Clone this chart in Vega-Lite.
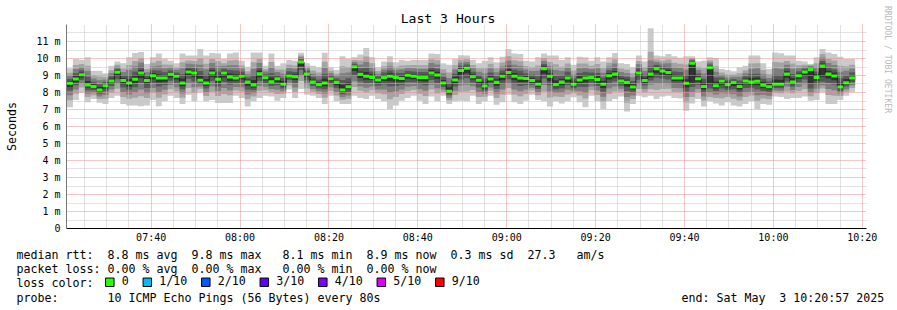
{
"$schema":"https://vega.github.io/schema/vega-lite/v6.json",
"width":800,"height":204,
"autosize":{"type":"none"},
"padding":{"left":66,"top":24,"right":31,"bottom":82},
"background":"#ffffff",
"config":{"view":{"stroke":null},"font":"DejaVu Sans Mono"},
"title":{"text":"Last 3 Hours","font":"DejaVu Sans Mono","fontSize":13.1,"fontWeight":"normal","color":"#000000","anchor":"middle","frame":"group","dx":-18,"offset":-31,"baseline":"alphabetic"},
"data":{"format":{"parse":{"t":"utc:'%H:%M:%S'"}},"values":[
{"t":"07:21:10","m":8.51,"p1":7.10,"p2":7.52,"p3":7.81,"p4":8.09,"p5":8.30,"p6":8.64,"p7":8.78,"p8":8.96,"p9":9.13,"p10":9.40},
{"t":"07:22:30","m":8.76,"p1":7.53,"p2":7.90,"p3":8.14,"p4":8.39,"p5":8.58,"p6":8.94,"p7":9.11,"p8":9.35,"p9":9.59,"p10":9.94},
{"t":"07:23:50","m":9.02,"p1":7.95,"p2":8.27,"p3":8.48,"p4":8.70,"p5":8.86,"p6":9.15,"p7":9.28,"p8":9.46,"p9":9.64,"p10":9.90},
{"t":"07:25:10","m":8.41,"p1":7.39,"p2":7.70,"p3":7.90,"p4":8.10,"p5":8.26,"p6":8.65,"p7":8.90,"p8":9.23,"p9":9.55,"p10":10.04},
{"t":"07:26:30","m":8.33,"p1":7.59,"p2":7.81,"p3":7.96,"p4":8.11,"p5":8.22,"p6":8.47,"p7":8.61,"p8":8.79,"p9":8.97,"p10":9.25},
{"t":"07:27:50","m":8.12,"p1":7.37,"p2":7.59,"p3":7.74,"p4":7.89,"p5":8.01,"p6":8.29,"p7":8.46,"p8":8.69,"p9":8.91,"p10":9.25},
{"t":"07:29:10","m":8.37,"p1":7.29,"p2":7.61,"p3":7.83,"p4":8.05,"p5":8.21,"p6":8.48,"p7":8.59,"p8":8.74,"p9":8.88,"p10":9.10},
{"t":"07:30:30","m":8.65,"p1":7.65,"p2":7.95,"p3":8.15,"p4":8.35,"p5":8.50,"p6":8.79,"p7":8.92,"p8":9.10,"p9":9.28,"p10":9.55},
{"t":"07:31:50","m":9.16,"p1":7.78,"p2":8.19,"p3":8.47,"p4":8.75,"p5":8.95,"p6":9.26,"p7":9.35,"p8":9.48,"p9":9.61,"p10":9.80},
{"t":"07:33:10","m":8.67,"p1":7.29,"p2":7.70,"p3":7.98,"p4":8.26,"p5":8.46,"p6":8.82,"p7":8.98,"p8":9.18,"p9":9.38,"p10":9.69},
{"t":"07:34:30","m":8.53,"p1":7.20,"p2":7.60,"p3":7.86,"p4":8.13,"p5":8.33,"p6":8.76,"p7":8.98,"p8":9.29,"p9":9.59,"p10":10.04},
{"t":"07:35:50","m":8.75,"p1":7.20,"p2":7.66,"p3":7.97,"p4":8.28,"p5":8.52,"p6":8.98,"p7":9.21,"p8":9.52,"p9":9.83,"p10":10.29},
{"t":"07:37:10","m":9.12,"p1":7.16,"p2":7.75,"p3":8.14,"p4":8.53,"p5":8.83,"p6":9.30,"p7":9.49,"p8":9.74,"p9":9.98,"p10":10.35},
{"t":"07:38:30","m":8.67,"p1":7.20,"p2":7.64,"p3":7.93,"p4":8.23,"p5":8.45,"p6":8.82,"p7":8.96,"p8":9.16,"p9":9.36,"p10":9.65},
{"t":"07:39:50","m":8.96,"p1":7.53,"p2":7.96,"p3":8.24,"p4":8.53,"p5":8.75,"p6":9.12,"p7":9.28,"p8":9.50,"p9":9.72,"p10":10.04},
{"t":"07:41:10","m":8.82,"p1":7.16,"p2":7.66,"p3":7.99,"p4":8.32,"p5":8.57,"p6":9.04,"p7":9.26,"p8":9.55,"p9":9.84,"p10":10.27},
{"t":"07:42:30","m":8.82,"p1":7.45,"p2":7.86,"p3":8.13,"p4":8.41,"p5":8.61,"p6":8.99,"p7":9.16,"p8":9.39,"p9":9.62,"p10":9.96},
{"t":"07:43:50","m":9.04,"p1":7.78,"p2":8.16,"p3":8.41,"p4":8.66,"p5":8.85,"p6":9.16,"p7":9.28,"p8":9.44,"p9":9.60,"p10":9.84},
{"t":"07:45:10","m":8.92,"p1":7.65,"p2":8.03,"p3":8.28,"p4":8.54,"p5":8.73,"p6":9.04,"p7":9.15,"p8":9.31,"p9":9.46,"p10":9.69},
{"t":"07:46:30","m":8.53,"p1":7.29,"p2":7.66,"p3":7.91,"p4":8.16,"p5":8.34,"p6":8.79,"p7":9.05,"p8":9.40,"p9":9.75,"p10":10.27},
{"t":"07:47:50","m":9.18,"p1":7.84,"p2":8.24,"p3":8.51,"p4":8.78,"p5":8.98,"p6":9.32,"p7":9.47,"p8":9.66,"p9":9.85,"p10":10.14},
{"t":"07:49:10","m":9.12,"p1":7.45,"p2":7.95,"p3":8.28,"p4":8.62,"p5":8.87,"p6":9.27,"p7":9.43,"p8":9.63,"p9":9.83,"p10":10.14},
{"t":"07:50:30","m":8.69,"p1":7.98,"p2":8.19,"p3":8.33,"p4":8.48,"p5":8.58,"p6":8.97,"p7":9.24,"p8":9.61,"p9":9.98,"p10":10.53},
{"t":"07:51:50","m":8.53,"p1":7.45,"p2":7.77,"p3":7.99,"p4":8.21,"p5":8.37,"p6":8.77,"p7":9.01,"p8":9.34,"p9":9.66,"p10":10.14},
{"t":"07:53:10","m":9.12,"p1":7.53,"p2":8.01,"p3":8.32,"p4":8.64,"p5":8.88,"p6":9.30,"p7":9.47,"p8":9.71,"p9":9.94,"p10":10.29},
{"t":"07:54:30","m":8.75,"p1":7.35,"p2":7.77,"p3":8.05,"p4":8.33,"p5":8.54,"p6":8.98,"p7":9.21,"p8":9.51,"p9":9.81,"p10":10.27},
{"t":"07:55:50","m":9.12,"p1":7.35,"p2":7.88,"p3":8.23,"p4":8.59,"p5":8.85,"p6":9.24,"p7":9.37,"p8":9.53,"p9":9.69,"p10":9.94},
{"t":"07:57:10","m":8.88,"p1":7.35,"p2":7.81,"p3":8.11,"p4":8.42,"p5":8.65,"p6":9.09,"p7":9.30,"p8":9.58,"p9":9.85,"p10":10.27},
{"t":"07:58:30","m":8.82,"p1":7.78,"p2":8.09,"p3":8.30,"p4":8.51,"p5":8.66,"p6":9.05,"p7":9.27,"p8":9.58,"p9":9.88,"p10":10.33},
{"t":"07:59:50","m":8.92,"p1":7.65,"p2":8.03,"p3":8.28,"p4":8.54,"p5":8.73,"p6":9.06,"p7":9.20,"p8":9.38,"p9":9.56,"p10":9.84},
{"t":"08:01:10","m":8.59,"p1":7.14,"p2":7.57,"p3":7.86,"p4":8.15,"p5":8.37,"p6":8.73,"p7":8.86,"p8":9.04,"p9":9.22,"p10":9.49},
{"t":"08:02:30","m":8.41,"p1":7.45,"p2":7.74,"p3":7.93,"p4":8.12,"p5":8.27,"p6":8.70,"p7":8.99,"p8":9.37,"p9":9.75,"p10":10.33},
{"t":"08:03:50","m":9.08,"p1":7.65,"p2":8.08,"p3":8.36,"p4":8.65,"p5":8.87,"p6":9.27,"p7":9.46,"p8":9.71,"p9":9.96,"p10":10.33},
{"t":"08:05:10","m":8.84,"p1":7.78,"p2":8.10,"p3":8.31,"p4":8.52,"p5":8.68,"p6":8.95,"p7":9.05,"p8":9.20,"p9":9.34,"p10":9.55},
{"t":"08:06:30","m":8.61,"p1":7.73,"p2":7.99,"p3":8.17,"p4":8.35,"p5":8.48,"p6":8.86,"p7":9.11,"p8":9.44,"p9":9.77,"p10":10.27},
{"t":"08:07:50","m":8.78,"p1":7.49,"p2":7.88,"p3":8.13,"p4":8.39,"p5":8.59,"p6":8.90,"p7":9.01,"p8":9.17,"p9":9.32,"p10":9.55},
{"t":"08:09:10","m":8.45,"p1":7.65,"p2":7.89,"p3":8.05,"p4":8.21,"p5":8.33,"p6":8.64,"p7":8.82,"p8":9.07,"p9":9.32,"p10":9.69},
{"t":"08:10:30","m":8.94,"p1":8.14,"p2":8.38,"p3":8.54,"p4":8.70,"p5":8.82,"p6":9.08,"p7":9.22,"p8":9.41,"p9":9.60,"p10":9.88},
{"t":"08:11:50","m":8.90,"p1":7.65,"p2":8.02,"p3":8.27,"p4":8.52,"p5":8.71,"p6":9.04,"p7":9.18,"p8":9.37,"p9":9.56,"p10":9.84},
{"t":"08:13:10","m":9.76,"p1":8.18,"p2":8.65,"p3":8.97,"p4":9.29,"p5":9.52,"p6":9.84,"p7":9.93,"p8":10.04,"p9":10.15,"p10":10.31},
{"t":"08:14:30","m":9.06,"p1":7.84,"p2":8.21,"p3":8.45,"p4":8.69,"p5":8.88,"p6":9.15,"p7":9.25,"p8":9.38,"p9":9.50,"p10":9.69},
{"t":"08:15:50","m":8.59,"p1":7.78,"p2":8.02,"p3":8.18,"p4":8.35,"p5":8.47,"p6":8.73,"p7":8.88,"p8":9.07,"p9":9.26,"p10":9.55},
{"t":"08:17:10","m":8.43,"p1":7.65,"p2":7.88,"p3":8.04,"p4":8.20,"p5":8.31,"p6":8.58,"p7":8.74,"p8":8.94,"p9":9.14,"p10":9.45},
{"t":"08:18:30","m":8.53,"p1":7.29,"p2":7.66,"p3":7.91,"p4":8.16,"p5":8.34,"p6":8.80,"p7":9.06,"p8":9.42,"p9":9.78,"p10":10.31},
{"t":"08:19:50","m":8.78,"p1":7.78,"p2":8.08,"p3":8.28,"p4":8.48,"p5":8.63,"p6":8.88,"p7":8.98,"p8":9.12,"p9":9.25,"p10":9.45},
{"t":"08:21:10","m":8.57,"p1":7.45,"p2":7.79,"p3":8.01,"p4":8.23,"p5":8.40,"p6":8.68,"p7":8.79,"p8":8.93,"p9":9.07,"p10":9.29},
{"t":"08:22:30","m":8.12,"p1":7.29,"p2":7.54,"p3":7.70,"p4":7.87,"p5":8.00,"p6":8.42,"p7":8.71,"p8":9.11,"p9":9.51,"p10":10.10},
{"t":"08:23:50","m":8.31,"p1":7.29,"p2":7.60,"p3":7.80,"p4":8.00,"p5":8.16,"p6":8.56,"p7":8.81,"p8":9.14,"p9":9.47,"p10":9.96},
{"t":"08:25:10","m":9.49,"p1":7.78,"p2":8.29,"p3":8.63,"p4":8.98,"p5":9.23,"p6":9.57,"p7":9.66,"p8":9.77,"p9":9.88,"p10":10.04},
{"t":"08:26:30","m":9.04,"p1":7.65,"p2":8.07,"p3":8.34,"p4":8.62,"p5":8.83,"p6":9.21,"p7":9.39,"p8":9.62,"p9":9.85,"p10":10.20},
{"t":"08:27:50","m":8.92,"p1":7.59,"p2":7.99,"p3":8.25,"p4":8.52,"p5":8.72,"p6":9.17,"p7":9.42,"p8":9.76,"p9":10.09,"p10":10.59},
{"t":"08:29:10","m":8.86,"p1":7.78,"p2":8.10,"p3":8.32,"p4":8.54,"p5":8.70,"p6":9.04,"p7":9.21,"p8":9.45,"p9":9.69,"p10":10.04},
{"t":"08:30:30","m":8.71,"p1":7.59,"p2":7.93,"p3":8.15,"p4":8.37,"p5":8.54,"p6":8.82,"p7":8.93,"p8":9.08,"p9":9.23,"p10":9.45},
{"t":"08:31:50","m":8.86,"p1":7.45,"p2":7.87,"p3":8.15,"p4":8.44,"p5":8.65,"p6":9.00,"p7":9.14,"p8":9.33,"p9":9.52,"p10":9.80},
{"t":"08:33:10","m":8.92,"p1":7.00,"p2":7.58,"p3":7.96,"p4":8.34,"p5":8.63,"p6":9.10,"p7":9.27,"p8":9.51,"p9":9.75,"p10":10.10},
{"t":"08:34:30","m":8.86,"p1":7.20,"p2":7.70,"p3":8.03,"p4":8.36,"p5":8.61,"p6":8.99,"p7":9.13,"p8":9.31,"p9":9.48,"p10":9.75},
{"t":"08:35:50","m":8.80,"p1":7.49,"p2":7.88,"p3":8.14,"p4":8.41,"p5":8.60,"p6":8.96,"p7":9.12,"p8":9.34,"p9":9.56,"p10":9.88},
{"t":"08:37:10","m":8.98,"p1":7.65,"p2":8.05,"p3":8.31,"p4":8.58,"p5":8.78,"p6":9.11,"p7":9.24,"p8":9.41,"p9":9.58,"p10":9.84},
{"t":"08:38:30","m":8.92,"p1":7.78,"p2":8.12,"p3":8.35,"p4":8.58,"p5":8.75,"p6":9.06,"p7":9.21,"p8":9.40,"p9":9.59,"p10":9.88},
{"t":"08:39:50","m":8.86,"p1":7.49,"p2":7.90,"p3":8.17,"p4":8.45,"p5":8.65,"p6":9.01,"p7":9.17,"p8":9.37,"p9":9.57,"p10":9.88},
{"t":"08:41:10","m":8.86,"p1":7.29,"p2":7.76,"p3":8.07,"p4":8.39,"p5":8.62,"p6":9.01,"p7":9.17,"p8":9.37,"p9":9.57,"p10":9.88},
{"t":"08:42:30","m":9.12,"p1":7.73,"p2":8.15,"p3":8.42,"p4":8.70,"p5":8.91,"p6":9.29,"p7":9.47,"p8":9.70,"p9":9.93,"p10":10.27},
{"t":"08:43:50","m":9.00,"p1":7.45,"p2":7.91,"p3":8.22,"p4":8.53,"p5":8.77,"p6":9.19,"p7":9.37,"p8":9.62,"p9":9.87,"p10":10.24},
{"t":"08:45:10","m":8.53,"p1":7.78,"p2":8.00,"p3":8.15,"p4":8.30,"p5":8.42,"p6":8.70,"p7":8.88,"p8":9.11,"p9":9.34,"p10":9.69},
{"t":"08:46:30","m":8.04,"p1":7.29,"p2":7.51,"p3":7.66,"p4":7.81,"p5":7.93,"p6":8.28,"p7":8.51,"p8":8.83,"p9":9.14,"p10":9.61},
{"t":"08:47:50","m":8.71,"p1":7.45,"p2":7.83,"p3":8.08,"p4":8.33,"p5":8.52,"p6":8.89,"p7":9.08,"p8":9.33,"p9":9.57,"p10":9.94},
{"t":"08:49:10","m":9.27,"p1":7.49,"p2":8.02,"p3":8.38,"p4":8.74,"p5":9.00,"p6":9.40,"p7":9.54,"p8":9.72,"p9":9.89,"p10":10.16},
{"t":"08:50:30","m":9.39,"p1":7.45,"p2":8.03,"p3":8.42,"p4":8.81,"p5":9.10,"p6":9.50,"p7":9.62,"p8":9.77,"p9":9.92,"p10":10.14},
{"t":"08:51:50","m":8.90,"p1":7.78,"p2":8.12,"p3":8.34,"p4":8.56,"p5":8.73,"p6":9.05,"p7":9.19,"p8":9.39,"p9":9.59,"p10":9.88},
{"t":"08:53:10","m":8.69,"p1":7.29,"p2":7.71,"p3":7.99,"p4":8.27,"p5":8.48,"p6":8.84,"p7":8.99,"p8":9.19,"p9":9.39,"p10":9.69},
{"t":"08:54:30","m":8.35,"p1":7.45,"p2":7.72,"p3":7.90,"p4":8.08,"p5":8.21,"p6":8.57,"p7":8.80,"p8":9.10,"p9":9.39,"p10":9.84},
{"t":"08:55:50","m":8.76,"p1":7.78,"p2":8.07,"p3":8.27,"p4":8.47,"p5":8.61,"p6":8.95,"p7":9.14,"p8":9.40,"p9":9.66,"p10":10.04},
{"t":"08:57:10","m":8.57,"p1":7.25,"p2":7.65,"p3":7.91,"p4":8.17,"p5":8.37,"p6":8.75,"p7":8.92,"p8":9.16,"p9":9.40,"p10":9.75},
{"t":"08:58:30","m":8.92,"p1":7.39,"p2":7.85,"p3":8.15,"p4":8.46,"p5":8.69,"p6":9.09,"p7":9.27,"p8":9.50,"p9":9.73,"p10":10.08},
{"t":"08:59:50","m":9.14,"p1":7.84,"p2":8.23,"p3":8.49,"p4":8.75,"p5":8.94,"p6":9.35,"p7":9.56,"p8":9.84,"p9":10.11,"p10":10.53},
{"t":"09:01:10","m":8.92,"p1":7.39,"p2":7.85,"p3":8.15,"p4":8.46,"p5":8.69,"p6":9.12,"p7":9.33,"p8":9.60,"p9":9.87,"p10":10.27},
{"t":"09:02:30","m":8.82,"p1":7.29,"p2":7.75,"p3":8.05,"p4":8.36,"p5":8.59,"p6":9.03,"p7":9.25,"p8":9.53,"p9":9.81,"p10":10.24},
{"t":"09:03:50","m":8.80,"p1":7.49,"p2":7.88,"p3":8.14,"p4":8.41,"p5":8.60,"p6":8.96,"p7":9.11,"p8":9.32,"p9":9.53,"p10":9.84},
{"t":"09:05:10","m":8.67,"p1":7.84,"p2":8.09,"p3":8.25,"p4":8.42,"p5":8.55,"p6":8.84,"p7":9.01,"p8":9.24,"p9":9.46,"p10":9.80},
{"t":"09:06:30","m":8.45,"p1":7.53,"p2":7.81,"p3":7.99,"p4":8.17,"p5":8.31,"p6":8.69,"p7":8.93,"p8":9.25,"p9":9.56,"p10":10.04},
{"t":"09:07:50","m":9.37,"p1":7.45,"p2":8.03,"p3":8.41,"p4":8.79,"p5":9.08,"p6":9.51,"p7":9.64,"p8":9.82,"p9":10.00,"p10":10.27},
{"t":"09:09:10","m":8.92,"p1":7.14,"p2":7.67,"p3":8.03,"p4":8.39,"p5":8.65,"p6":9.10,"p7":9.29,"p8":9.53,"p9":9.77,"p10":10.14},
{"t":"09:10:30","m":8.43,"p1":7.45,"p2":7.74,"p3":7.94,"p4":8.14,"p5":8.28,"p6":8.69,"p7":8.94,"p8":9.29,"p9":9.63,"p10":10.14},
{"t":"09:11:50","m":8.59,"p1":7.33,"p2":7.71,"p3":7.96,"p4":8.21,"p5":8.40,"p6":8.78,"p7":8.98,"p8":9.24,"p9":9.49,"p10":9.88},
{"t":"09:13:10","m":8.82,"p1":7.45,"p2":7.86,"p3":8.13,"p4":8.41,"p5":8.61,"p6":9.00,"p7":9.19,"p8":9.43,"p9":9.67,"p10":10.04},
{"t":"09:14:30","m":8.45,"p1":7.69,"p2":7.92,"p3":8.07,"p4":8.22,"p5":8.34,"p6":8.62,"p7":8.80,"p8":9.03,"p9":9.26,"p10":9.61},
{"t":"09:15:50","m":8.71,"p1":7.39,"p2":7.79,"p3":8.05,"p4":8.31,"p5":8.51,"p6":8.92,"p7":9.12,"p8":9.40,"p9":9.67,"p10":10.08},
{"t":"09:17:10","m":8.82,"p1":7.10,"p2":7.62,"p3":7.96,"p4":8.30,"p5":8.56,"p6":9.00,"p7":9.19,"p8":9.43,"p9":9.67,"p10":10.04},
{"t":"09:18:30","m":8.86,"p1":7.78,"p2":8.10,"p3":8.32,"p4":8.54,"p5":8.70,"p6":9.01,"p7":9.15,"p8":9.35,"p9":9.55,"p10":9.84},
{"t":"09:19:50","m":8.73,"p1":7.45,"p2":7.83,"p3":8.09,"p4":8.35,"p5":8.54,"p6":8.93,"p7":9.12,"p8":9.39,"p9":9.65,"p10":10.04},
{"t":"09:21:10","m":8.45,"p1":7.00,"p2":7.43,"p3":7.72,"p4":8.01,"p5":8.23,"p6":8.65,"p7":8.86,"p8":9.13,"p9":9.40,"p10":9.80},
{"t":"09:22:30","m":8.96,"p1":7.45,"p2":7.90,"p3":8.20,"p4":8.51,"p5":8.73,"p6":9.12,"p7":9.28,"p8":9.50,"p9":9.72,"p10":10.04},
{"t":"09:23:50","m":9.06,"p1":7.59,"p2":8.03,"p3":8.32,"p4":8.62,"p5":8.84,"p6":9.24,"p7":9.43,"p8":9.68,"p9":9.92,"p10":10.29},
{"t":"09:25:10","m":8.65,"p1":7.73,"p2":8.01,"p3":8.19,"p4":8.37,"p5":8.51,"p6":8.81,"p7":8.96,"p8":9.17,"p9":9.38,"p10":9.69},
{"t":"09:26:30","m":8.57,"p1":6.86,"p2":7.37,"p3":7.71,"p4":8.06,"p5":8.31,"p6":8.73,"p7":8.89,"p8":9.11,"p9":9.33,"p10":9.65},
{"t":"09:27:50","m":8.29,"p1":7.29,"p2":7.59,"p3":7.79,"p4":7.99,"p5":8.14,"p6":8.46,"p7":8.64,"p8":8.87,"p9":9.10,"p10":9.45},
{"t":"09:29:10","m":9.12,"p1":7.78,"p2":8.18,"p3":8.45,"p4":8.72,"p5":8.92,"p6":9.27,"p7":9.43,"p8":9.63,"p9":9.83,"p10":10.14},
{"t":"09:30:30","m":8.67,"p1":7.69,"p2":7.98,"p3":8.18,"p4":8.38,"p5":8.52,"p6":8.84,"p7":9.01,"p8":9.24,"p9":9.46,"p10":9.80},
{"t":"09:31:50","m":9.06,"p1":7.78,"p2":8.16,"p3":8.42,"p4":8.68,"p5":8.87,"p6":9.20,"p7":9.50,"p8":9.85,"p9":10.37,"p10":11.75},
{"t":"09:33:10","m":9.37,"p1":7.59,"p2":8.12,"p3":8.48,"p4":8.84,"p5":9.10,"p6":9.49,"p7":9.60,"p8":9.76,"p9":9.91,"p10":10.14},
{"t":"09:34:30","m":9.24,"p1":7.73,"p2":8.18,"p3":8.48,"p4":8.79,"p5":9.01,"p6":9.37,"p7":9.50,"p8":9.67,"p9":9.84,"p10":10.10},
{"t":"09:35:50","m":9.14,"p1":7.78,"p2":8.19,"p3":8.46,"p4":8.73,"p5":8.94,"p6":9.31,"p7":9.47,"p8":9.69,"p9":9.91,"p10":10.24},
{"t":"09:37:10","m":8.82,"p1":7.65,"p2":8.00,"p3":8.23,"p4":8.47,"p5":8.64,"p6":9.01,"p7":9.20,"p8":9.46,"p9":9.72,"p10":10.10},
{"t":"09:38:30","m":8.82,"p1":7.62,"p2":7.98,"p3":8.22,"p4":8.46,"p5":8.64,"p6":9.00,"p7":9.18,"p8":9.42,"p9":9.66,"p10":10.02},
{"t":"09:39:50","m":8.51,"p1":6.90,"p2":7.38,"p3":7.70,"p4":8.03,"p5":8.27,"p6":8.75,"p7":8.99,"p8":9.31,"p9":9.62,"p10":10.10},
{"t":"09:41:10","m":9.69,"p1":7.33,"p2":7.70,"p3":8.00,"p4":8.30,"p5":8.55,"p6":9.78,"p7":9.85,"p8":9.92,"p9":10.00,"p10":10.10},
{"t":"09:42:30","m":8.78,"p1":7.59,"p2":7.95,"p3":8.18,"p4":8.42,"p5":8.60,"p6":8.93,"p7":9.09,"p8":9.29,"p9":9.49,"p10":9.80},
{"t":"09:43:50","m":8.33,"p1":7.14,"p2":7.50,"p3":7.73,"p4":7.97,"p5":8.15,"p6":8.56,"p7":8.78,"p8":9.09,"p9":9.39,"p10":9.84},
{"t":"09:45:10","m":9.43,"p1":7.45,"p2":7.70,"p3":7.95,"p4":8.20,"p5":8.45,"p6":9.52,"p7":9.62,"p8":9.73,"p9":9.86,"p10":10.04},
{"t":"09:46:30","m":8.37,"p1":7.33,"p2":7.64,"p3":7.85,"p4":8.06,"p5":8.21,"p6":8.61,"p7":8.86,"p8":9.19,"p9":9.51,"p10":10.00},
{"t":"09:47:50","m":8.65,"p1":7.20,"p2":7.63,"p3":7.92,"p4":8.21,"p5":8.43,"p6":8.76,"p7":8.86,"p8":9.00,"p9":9.14,"p10":9.35},
{"t":"09:49:10","m":8.43,"p1":7.39,"p2":7.70,"p3":7.91,"p4":8.12,"p5":8.27,"p6":8.56,"p7":8.69,"p8":8.86,"p9":9.03,"p10":9.29},
{"t":"09:50:30","m":8.57,"p1":7.20,"p2":7.61,"p3":7.88,"p4":8.16,"p5":8.36,"p6":8.67,"p7":8.77,"p8":8.90,"p9":9.03,"p10":9.22},
{"t":"09:51:50","m":8.33,"p1":7.14,"p2":7.50,"p3":7.73,"p4":7.97,"p5":8.15,"p6":8.50,"p7":8.67,"p8":8.89,"p9":9.11,"p10":9.45},
{"t":"09:53:10","m":8.65,"p1":7.29,"p2":7.70,"p3":7.97,"p4":8.24,"p5":8.45,"p6":8.79,"p7":8.92,"p8":9.10,"p9":9.28,"p10":9.55},
{"t":"09:54:30","m":8.59,"p1":7.45,"p2":7.79,"p3":8.02,"p4":8.25,"p5":8.42,"p6":8.82,"p7":9.06,"p8":9.37,"p9":9.68,"p10":10.14},
{"t":"09:55:50","m":8.63,"p1":7.00,"p2":7.49,"p3":7.81,"p4":8.14,"p5":8.39,"p6":8.86,"p7":9.08,"p8":9.39,"p9":9.69,"p10":10.14},
{"t":"09:57:10","m":8.39,"p1":7.29,"p2":7.62,"p3":7.84,"p4":8.06,"p5":8.22,"p6":8.59,"p7":8.78,"p8":9.04,"p9":9.30,"p10":9.69},
{"t":"09:58:30","m":8.31,"p1":7.25,"p2":7.57,"p3":7.78,"p4":7.99,"p5":8.15,"p6":8.47,"p7":8.62,"p8":8.83,"p9":9.04,"p10":9.35},
{"t":"09:59:50","m":8.45,"p1":7.73,"p2":7.95,"p3":8.09,"p4":8.23,"p5":8.34,"p6":8.73,"p7":9.01,"p8":9.39,"p9":9.77,"p10":10.33},
{"t":"10:01:10","m":8.45,"p1":7.70,"p2":7.92,"p3":8.07,"p4":8.22,"p5":8.34,"p6":8.72,"p7":9.00,"p8":9.37,"p9":9.73,"p10":10.28},
{"t":"10:02:30","m":9.06,"p1":7.59,"p2":8.03,"p3":8.32,"p4":8.62,"p5":8.84,"p6":9.22,"p7":9.38,"p8":9.60,"p9":9.82,"p10":10.14},
{"t":"10:03:50","m":8.59,"p1":7.65,"p2":7.93,"p3":8.12,"p4":8.31,"p5":8.45,"p6":8.82,"p7":9.06,"p8":9.37,"p9":9.68,"p10":10.14},
{"t":"10:05:10","m":8.96,"p1":7.65,"p2":8.04,"p3":8.30,"p4":8.57,"p5":8.76,"p6":9.09,"p7":9.22,"p8":9.40,"p9":9.58,"p10":9.84},
{"t":"10:06:30","m":9.18,"p1":7.73,"p2":8.16,"p3":8.45,"p4":8.74,"p5":8.96,"p6":9.27,"p7":9.37,"p8":9.49,"p9":9.61,"p10":9.80},
{"t":"10:07:50","m":9.33,"p1":7.49,"p2":7.75,"p3":7.95,"p4":8.20,"p5":8.50,"p6":9.40,"p7":9.47,"p8":9.53,"p9":9.59,"p10":9.65},
{"t":"10:09:10","m":8.86,"p1":7.53,"p2":7.93,"p3":8.19,"p4":8.46,"p5":8.66,"p6":9.04,"p7":9.21,"p8":9.45,"p9":9.69,"p10":10.04},
{"t":"10:10:30","m":9.53,"p1":7.98,"p2":8.20,"p3":8.40,"p4":8.60,"p5":8.90,"p6":9.68,"p7":9.83,"p8":10.03,"p9":10.23,"p10":10.53},
{"t":"10:11:50","m":9.06,"p1":7.29,"p2":7.82,"p3":8.17,"p4":8.53,"p5":8.79,"p6":9.25,"p7":9.44,"p8":9.70,"p9":9.95,"p10":10.33},
{"t":"10:13:10","m":8.94,"p1":7.29,"p2":7.78,"p3":8.11,"p4":8.44,"p5":8.69,"p6":9.14,"p7":9.33,"p8":9.59,"p9":9.85,"p10":10.24},
{"t":"10:14:30","m":8.29,"p1":7.53,"p2":7.76,"p3":7.91,"p4":8.06,"p5":8.18,"p6":8.56,"p7":8.83,"p8":9.19,"p9":9.54,"p10":10.08},
{"t":"10:15:50","m":8.55,"p1":7.78,"p2":8.01,"p3":8.16,"p4":8.32,"p5":8.43,"p6":8.76,"p7":8.97,"p8":9.25,"p9":9.52,"p10":9.94},
{"t":"10:17:10","m":8.82,"p1":7.98,"p2":8.23,"p3":8.40,"p4":8.57,"p5":8.69,"p6":8.99,"p7":9.16,"p8":9.38,"p9":9.60,"p10":9.94},
{"t":"10:18:30","m":8.82,"p1":7.98,"p2":8.23,"p3":8.40,"p4":8.57,"p5":8.69,"p6":8.99,"p7":9.16,"p8":9.38,"p9":9.60,"p10":9.94}
]},
"encoding":{"x":{"field":"t","type":"temporal","scale":{"type":"utc","nice":false,"domain":[{"year":1900,"month":1,"date":1,"hours":7,"minutes":20,"seconds":57,"utc":true},{"year":1900,"month":1,"date":1,"hours":10,"minutes":20,"seconds":57,"utc":true}]},"axis":null}},
"layer":[
{"mark":{"type":"area","interpolate":"step-after","color":"#cacaca"},
 "encoding":{
  "x":{"field":"t","type":"temporal","scale":{"type":"utc","nice":false,"domain":[{"year":1900,"month":1,"date":1,"hours":7,"minutes":20,"seconds":57,"utc":true},{"year":1900,"month":1,"date":1,"hours":10,"minutes":20,"seconds":57,"utc":true}]},
   "axis":{"orient":"bottom",
    "values":[{"year":1900,"month":1,"date":1,"hours":7,"minutes":40,"utc":true},{"year":1900,"month":1,"date":1,"hours":8,"minutes":0,"utc":true},{"year":1900,"month":1,"date":1,"hours":8,"minutes":20,"utc":true},{"year":1900,"month":1,"date":1,"hours":8,"minutes":40,"utc":true},{"year":1900,"month":1,"date":1,"hours":9,"minutes":0,"utc":true},{"year":1900,"month":1,"date":1,"hours":9,"minutes":20,"utc":true},{"year":1900,"month":1,"date":1,"hours":9,"minutes":40,"utc":true},{"year":1900,"month":1,"date":1,"hours":10,"minutes":0,"utc":true},{"year":1900,"month":1,"date":1,"hours":10,"minutes":20,"utc":true}],
    "labelExpr":"utcFormat(datum.value, '%H:%M')","labelFont":"DejaVu Sans Mono","labelFontSize":10,"labelColor":"#000000","labelPadding":4,"labelFlush":false,"labelOverlap":false,
    "ticks":false,"domain":true,"domainColor":"#000000","domainWidth":1,
    "grid":true,"gridColor":"#ee8f8f","gridDash":[1,1],"gridWidth":1,"zindex":1,
    "title":["median rtt:\u00a0\u00a08.8 ms avg\u00a0\u00a09.8 ms max\u00a0\u00a0\u00a08.1 ms min\u00a0\u00a08.9 ms now\u00a0\u00a00.3 ms sd\u00a0\u00a027.3\u00a0\u00a0\u00a0am/s","packet loss: 0.00 % avg\u00a0\u00a00.00 % max\u00a0\u00a0\u00a00.00 % min\u00a0\u00a00.00 % now","loss color:","probe:\u00a0\u00a0\u00a0\u00a0\u00a0\u00a0\u00a010 ICMP Echo Pings (56 Bytes) every 80s\u00a0\u00a0\u00a0\u00a0\u00a0\u00a0\u00a0\u00a0\u00a0\u00a0\u00a0\u00a0\u00a0\u00a0\u00a0\u00a0\u00a0\u00a0\u00a0\u00a0\u00a0\u00a0\u00a0\u00a0\u00a0\u00a0\u00a0\u00a0\u00a0\u00a0\u00a0\u00a0\u00a0\u00a0\u00a0\u00a0\u00a0\u00a0\u00a0\u00a0\u00a0\u00a0\u00a0end: Sat May\u00a0\u00a03 10:20:57 2025"],
    "titleX":-50,"titleY":30.8,"titleAlign":"left","titleAnchor":"start","titleBaseline":"alphabetic","titleAngle":0,"titleFont":"DejaVu Sans Mono","titleFontSize":11.63,"titleFontWeight":"normal","titleColor":"#000000","titleLineHeight":14.1,"titleLimit":2000,"titlePadding":0}},
  "y":{"field":"p10","type":"quantitative","scale":{"domain":[0,12],"nice":false},
   "axis":{"orient":"left","values":[0,1,2,3,4,5,6,7,8,9,10,11],
    "labelExpr":"datum.value == 0 ? '0\u00a0\u00a0' : datum.value + '\u00a0m'","labelFont":"DejaVu Sans Mono","labelFontSize":10,"labelColor":"#000000","labelPadding":6,"labelBaseline":"middle","labelFlush":false,"labelOverlap":false,
    "ticks":false,"domainColor":"#777777","domainWidth":1,
    "grid":true,"gridColor":"#ee8f8f","gridDash":[1,1],"gridWidth":1,"zindex":1,
    "title":"Seconds","titleX":-50.5,"titleY":102,"titleAngle":-90,"titleAlign":"center","titleBaseline":"alphabetic","titleFont":"DejaVu Sans Mono","titleFontSize":11.63,"titleFontWeight":"normal","titleColor":"#000000","titlePadding":0}},
  "y2":{"field":"p1"}}},
{"mark":{"type":"area","interpolate":"step-after","color":"#a4a4a4"},
 "encoding":{
  "x":{"field":"t","type":"temporal","scale":{"type":"utc","nice":false,"domain":[{"year":1900,"month":1,"date":1,"hours":7,"minutes":20,"seconds":57,"utc":true},{"year":1900,"month":1,"date":1,"hours":10,"minutes":20,"seconds":57,"utc":true}]},
   "axis":{"orient":"top",
    "values":[{"year":1900,"month":1,"date":1,"hours":7,"minutes":25,"utc":true},{"year":1900,"month":1,"date":1,"hours":7,"minutes":30,"utc":true},{"year":1900,"month":1,"date":1,"hours":7,"minutes":35,"utc":true},{"year":1900,"month":1,"date":1,"hours":7,"minutes":45,"utc":true},{"year":1900,"month":1,"date":1,"hours":7,"minutes":50,"utc":true},{"year":1900,"month":1,"date":1,"hours":7,"minutes":55,"utc":true},{"year":1900,"month":1,"date":1,"hours":8,"minutes":5,"utc":true},{"year":1900,"month":1,"date":1,"hours":8,"minutes":10,"utc":true},{"year":1900,"month":1,"date":1,"hours":8,"minutes":15,"utc":true},{"year":1900,"month":1,"date":1,"hours":8,"minutes":25,"utc":true},{"year":1900,"month":1,"date":1,"hours":8,"minutes":30,"utc":true},{"year":1900,"month":1,"date":1,"hours":8,"minutes":35,"utc":true},{"year":1900,"month":1,"date":1,"hours":8,"minutes":45,"utc":true},{"year":1900,"month":1,"date":1,"hours":8,"minutes":50,"utc":true},{"year":1900,"month":1,"date":1,"hours":8,"minutes":55,"utc":true},{"year":1900,"month":1,"date":1,"hours":9,"minutes":5,"utc":true},{"year":1900,"month":1,"date":1,"hours":9,"minutes":10,"utc":true},{"year":1900,"month":1,"date":1,"hours":9,"minutes":15,"utc":true},{"year":1900,"month":1,"date":1,"hours":9,"minutes":25,"utc":true},{"year":1900,"month":1,"date":1,"hours":9,"minutes":30,"utc":true},{"year":1900,"month":1,"date":1,"hours":9,"minutes":35,"utc":true},{"year":1900,"month":1,"date":1,"hours":9,"minutes":45,"utc":true},{"year":1900,"month":1,"date":1,"hours":9,"minutes":50,"utc":true},{"year":1900,"month":1,"date":1,"hours":9,"minutes":55,"utc":true},{"year":1900,"month":1,"date":1,"hours":10,"minutes":5,"utc":true},{"year":1900,"month":1,"date":1,"hours":10,"minutes":10,"utc":true},{"year":1900,"month":1,"date":1,"hours":10,"minutes":15,"utc":true}],
    "labels":false,"ticks":false,"domain":false,"grid":true,"gridColor":"#c4c4c4","gridDash":[1,1],"gridWidth":1,"zindex":1,"title":null}},
  "y":{"field":"p9","type":"quantitative","scale":{"domain":[0,12],"nice":false},
   "axis":{"orient":"right","values":[0.5,1.5,2.5,3.5,4.5,5.5,6.5,7.5,8.5,9.5,10.5,11.5],
    "labels":false,"ticks":false,"domain":false,"grid":true,"gridColor":"#c4c4c4","gridDash":[1,1],"gridWidth":1,"zindex":1,
    "title":"RRDTOOL / TOBI OETIKER","titleX":18.5,"titleY":35,"titleAngle":90,"titleAlign":"center","titleBaseline":"alphabetic","titleFont":"DejaVu Sans Mono","titleFontSize":8.1,"titleFontWeight":"normal","titleColor":"#bbbbbb","titlePadding":0}},
  "y2":{"field":"p2"}}},
{"mark":{"type":"area","interpolate":"step-after","color":"#7e7e7e"},
 "encoding":{"y":{"field":"p8","type":"quantitative","scale":{"domain":[0,12],"nice":false},"axis":null},"y2":{"field":"p3"}}},
{"mark":{"type":"area","interpolate":"step-after","color":"#585858"},
 "encoding":{"y":{"field":"p7","type":"quantitative","scale":{"domain":[0,12],"nice":false},"axis":null},"y2":{"field":"p4"}}},
{"mark":{"type":"area","interpolate":"step-after","color":"#323232"},
 "encoding":{"y":{"field":"p6","type":"quantitative","scale":{"domain":[0,12],"nice":false},"axis":null},"y2":{"field":"p5"}}},
{"mark":{"type":"line","interpolate":"step-after","color":"#202020","strokeWidth":1},
 "encoding":{"y":{"field":"m","type":"quantitative","scale":{"domain":[0,12],"nice":false},"axis":null}}},
{"mark":{"type":"area","interpolate":"step-after","yOffset":-1.5,"y2Offset":1.5,"opacity":1},
 "encoding":{"y":{"field":"m","type":"quantitative","scale":{"domain":[0,12],"nice":false},"axis":null},"y2":{"field":"m"},
  "color":{"datum":"0","type":"nominal",
   "scale":{"domain":["0","1/10","2/10","3/10","4/10","5/10","9/10"],"range":["#26ff00","#00b8ff","#0059ff","#5e00ff","#7e00ff","#dd00ff","#ff0000"]},
   "legend":{"orient":"none","legendX":38,"legendY":252,"direction":"horizontal","title":null,"symbolType":"square","symbolSize":72,"symbolStrokeColor":"#000000","symbolStrokeWidth":1,"symbolOpacity":1,"labelFont":"DejaVu Sans Mono","labelFontSize":11.63,"labelColor":"#000000","labelOffset":6,"columnPadding":11.5,"padding":0,"labelLimit":200,
    "encode":{"symbols":{"update":{"stroke":{"value":"#000000"},"strokeWidth":{"value":1}}}}}}}},
{"data":{"values":[{"a":1}]},
 "mark":{"type":"point","shape":"triangle-up","filled":true,"size":30,"color":"#9a1010","opacity":1,"yOffset":-1},
 "encoding":{"x":{"datum":{"year":1900,"month":1,"date":1,"hours":7,"minutes":20,"seconds":57,"utc":true},"type":"temporal","axis":null},"y":{"datum":12,"type":"quantitative","axis":null}}},
{"data":{"values":[{"a":1}]},
 "mark":{"type":"point","shape":"triangle-right","filled":true,"size":30,"color":"#9a1010","opacity":1,"xOffset":4},
 "encoding":{"x":{"datum":{"year":1900,"month":1,"date":1,"hours":10,"minutes":20,"seconds":57,"utc":true},"type":"temporal","axis":null},"y":{"datum":0,"type":"quantitative","axis":null}}}
],
"resolve":{"axis":{"x":"independent","y":"independent"}}
}
